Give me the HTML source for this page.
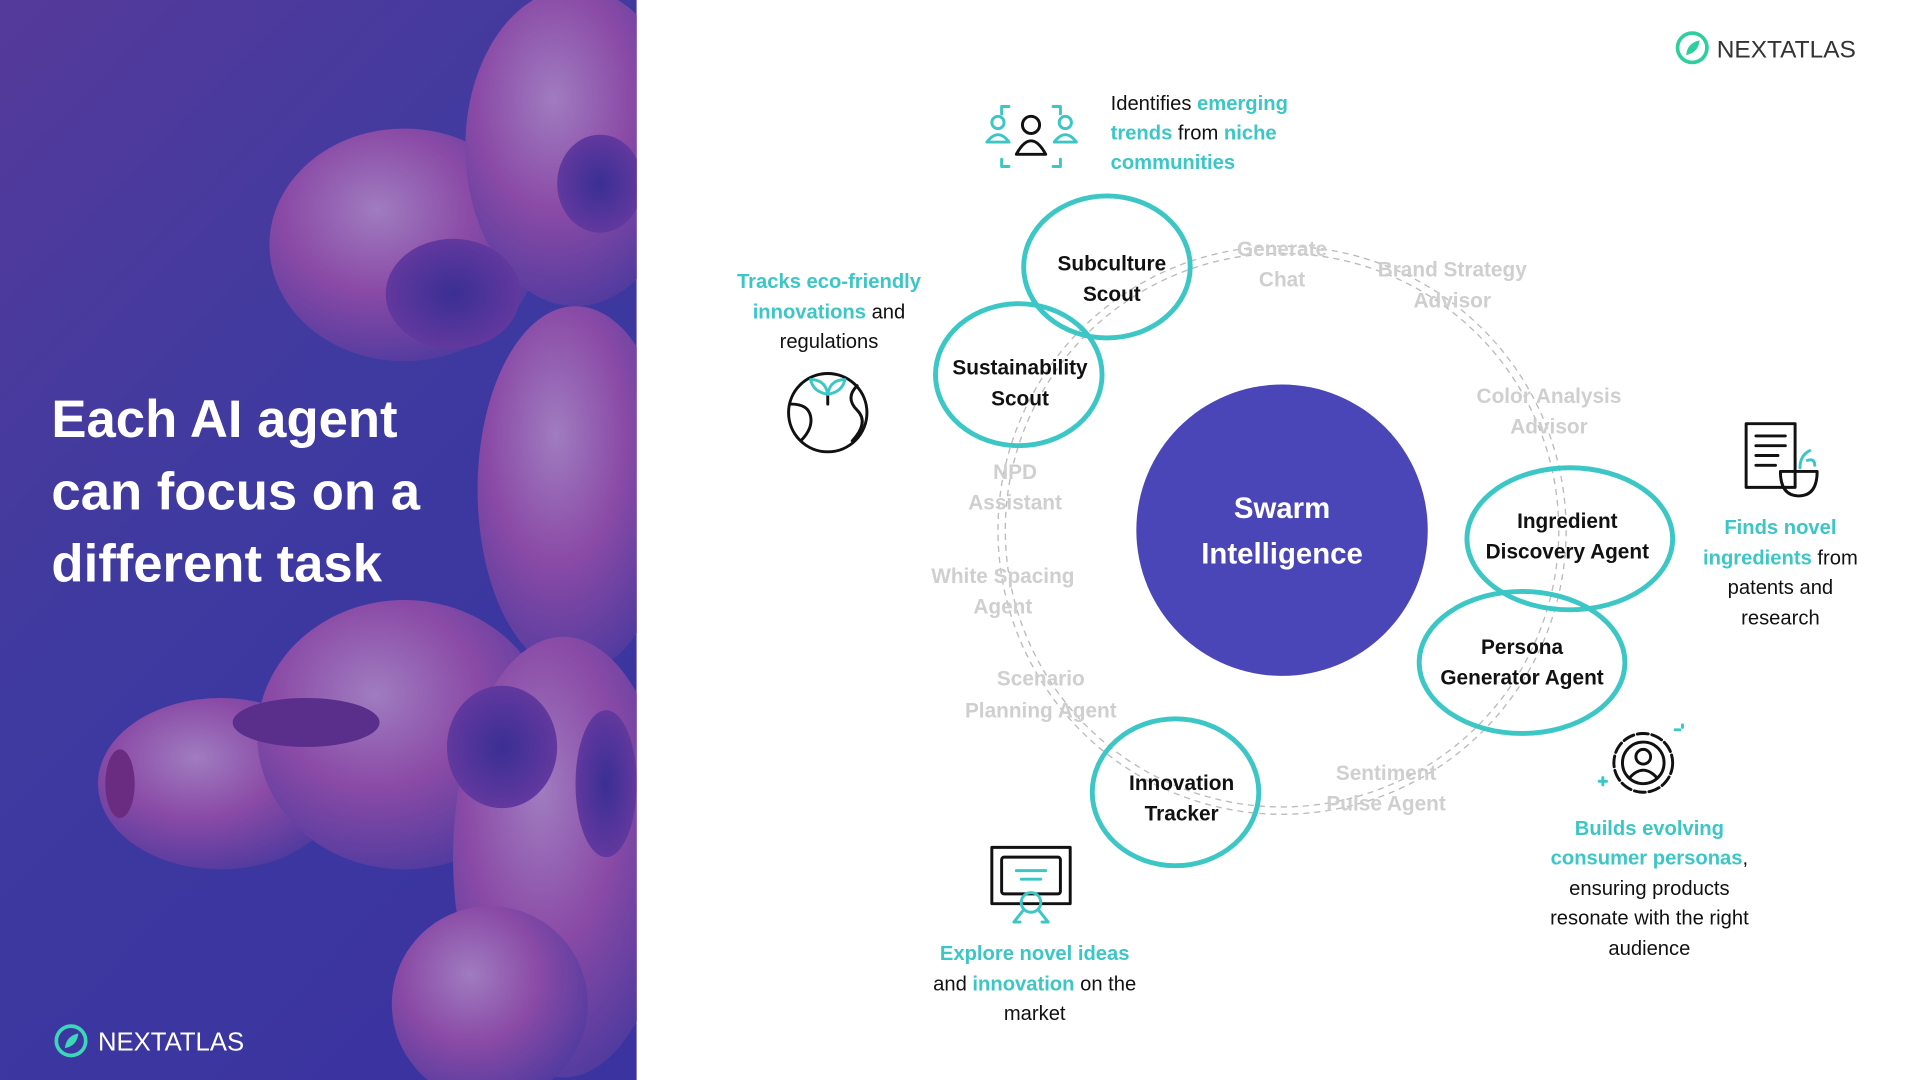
<!DOCTYPE html>
<html><head><meta charset="utf-8"><style>
html,body{margin:0;padding:0;width:1920px;height:1080px;overflow:hidden;background:#fff}
svg{display:block}
text{font-family:"Liberation Sans",sans-serif}
.g{fill:#cfcfcf;font-weight:bold;font-size:17px;text-anchor:middle}
.a{fill:#111;font-weight:bold;font-size:17px;text-anchor:middle}
.d{fill:#111;font-size:16.5px}
.t{fill:#3cc6c6;font-weight:bold}
.ring{fill:none;stroke:#3cc6c6;stroke-width:4}
.dash{fill:none;stroke:#bbb;stroke-width:1.1;stroke-dasharray:5 4}
.ic{fill:none;stroke:#111;stroke-width:2.4;stroke-linecap:round;stroke-linejoin:round}
.ict{fill:none;stroke:#3cc6c6;stroke-width:2.4;stroke-linecap:round;stroke-linejoin:round}
</style></head><body>
<svg width="1920" height="1080" viewBox="0 0 1568 882" preserveAspectRatio="none">
<defs>
<linearGradient id="bg" x1="0" y1="0" x2="0.6" y2="1">
<stop offset="0" stop-color="#553a9a"/><stop offset="0.5" stop-color="#3e3aa0"/><stop offset="1" stop-color="#3b34a0"/></linearGradient>
<radialGradient id="bl" cx="0.4" cy="0.35" r="0.7">
<stop offset="0" stop-color="#a07cc0"/><stop offset="0.5" stop-color="#8a4aa6"/><stop offset="1" stop-color="#4e3a9e"/></radialGradient>
<radialGradient id="ho" cx="0.5" cy="0.5" r="0.6">
<stop offset="0" stop-color="#3a2f94"/><stop offset="1" stop-color="#6a3aa0"/></radialGradient>
<clipPath id="lp"><rect x="0" y="0" width="520" height="882"/></clipPath>
</defs>
<g clip-path="url(#lp)">
<rect x="0" y="0" width="520" height="882" fill="url(#bg)"/>
<ellipse cx="330" cy="200" rx="110" ry="95" fill="url(#bl)"/>
<ellipse cx="470" cy="120" rx="90" ry="130" fill="url(#bl)"/>
<ellipse cx="470" cy="400" rx="80" ry="150" fill="url(#bl)"/>
<ellipse cx="180" cy="640" rx="100" ry="70" fill="url(#bl)"/>
<ellipse cx="330" cy="600" rx="120" ry="110" fill="url(#bl)"/>
<ellipse cx="460" cy="700" rx="90" ry="180" fill="url(#bl)"/>
<ellipse cx="400" cy="820" rx="80" ry="80" fill="url(#bl)"/>
<ellipse cx="370" cy="240" rx="55" ry="45" fill="url(#ho)"/>
<ellipse cx="490" cy="150" rx="35" ry="40" fill="url(#ho)"/>
<ellipse cx="410" cy="610" rx="45" ry="50" fill="url(#ho)"/>
<ellipse cx="495" cy="640" rx="25" ry="60" fill="url(#ho)"/>
<ellipse cx="250" cy="590" rx="60" ry="20" fill="#5a2f8c"/>
<ellipse cx="98" cy="640" rx="12" ry="28" fill="#6a2c80"/>
<text x="42" y="357" fill="#fff" font-size="43" font-weight="bold">Each AI agent</text>
<text x="42" y="416" fill="#fff" font-size="43" font-weight="bold">can focus on a</text>
<text x="42" y="475" fill="#fff" font-size="43" font-weight="bold">different task</text>
<circle cx="58" cy="850" r="12" fill="none" stroke="#3cd6b8" stroke-width="3"/>
<path d="M53 856 Q54 846 64 844 Q63 854 53 856Z" fill="#3cd6b8"/>
<text x="80" y="858" fill="#fff" font-size="21">NEXTATLAS</text>
</g>
<!-- top right logo -->
<circle cx="1382" cy="39" r="12" fill="none" stroke="#2ecf9f" stroke-width="3"/>
<path d="M1377 45 Q1378 35 1388 33 Q1387 43 1377 45Z" fill="#2ecf9f"/>
<text x="1402" y="47" fill="#333" font-size="20">NEXTATLAS</text>
<!-- dashed ring -->
<circle cx="1047" cy="433" r="232" class="dash" stroke="#ccc"/>
<circle cx="1047" cy="433" r="226" class="dash" stroke="#ddd"/>
<!-- center -->
<circle cx="1047" cy="433" r="119" fill="#4b46b8"/>
<text x="1047" y="423" fill="#fff" font-size="24" font-weight="bold" text-anchor="middle">Swarm</text>
<text x="1047" y="460" fill="#fff" font-size="24" font-weight="bold" text-anchor="middle">Intelligence</text>
<!-- grey labels -->
<g class="g">
<text x="1047" y="209">Generate</text><text x="1047" y="234">Chat</text>
<text x="1186" y="226">Brand Strategy</text><text x="1186" y="251">Advisor</text>
<text x="1265" y="329">Color Analysis</text><text x="1265" y="354">Advisor</text>
<text x="829" y="391">NPD</text><text x="829" y="416">Assistant</text>
<text x="819" y="476">White Spacing</text><text x="819" y="501">Agent</text>
<text x="850" y="560">Scenario</text><text x="850" y="586">Planning Agent</text>
<text x="1132" y="637">Sentiment</text><text x="1132" y="662">Pulse Agent</text>
</g>
<!-- teal rings -->
<ellipse cx="904" cy="218" rx="68" ry="58" class="ring" fill="#fff"/>
<ellipse cx="832" cy="306" rx="68" ry="58" class="ring"/>
<ellipse cx="1282" cy="440" rx="84" ry="58" class="ring"/>
<ellipse cx="1243" cy="541" rx="84" ry="58" class="ring"/>
<ellipse cx="960" cy="647" rx="68" ry="60" class="ring" fill="#fff"/>
<g class="a">
<text x="908" y="221">Subculture</text><text x="908" y="246">Scout</text>
<text x="833" y="306">Sustainability</text><text x="833" y="331">Scout</text>
<text x="1280" y="431">Ingredient</text><text x="1280" y="456">Discovery Agent</text>
<text x="1243" y="534">Persona</text><text x="1243" y="559">Generator Agent</text>
<text x="965" y="645">Innovation</text><text x="965" y="670">Tracker</text>
</g>
<!-- descriptions -->
<text x="907" y="90" class="d">Identifies <tspan class="t">emerging</tspan></text>
<text x="907" y="114" class="d"><tspan class="t">trends</tspan> from <tspan class="t">niche</tspan></text>
<text x="907" y="138" class="d t">communities</text>
<g class="d" text-anchor="middle">
<text x="677" y="235"><tspan class="t">Tracks eco-friendly</tspan></text>
<text x="677" y="260"><tspan class="t">innovations</tspan> and</text>
<text x="677" y="284">regulations</text>
<text x="1454" y="436"><tspan class="t">Finds novel</tspan></text>
<text x="1454" y="461"><tspan class="t">ingredients</tspan> from</text>
<text x="1454" y="485">patents and</text>
<text x="1454" y="510">research</text>
<text x="1347" y="682"><tspan class="t">Builds evolving</tspan></text>
<text x="1347" y="706"><tspan class="t">consumer personas</tspan>,</text>
<text x="1347" y="731">ensuring products</text>
<text x="1347" y="755">resonate with the right</text>
<text x="1347" y="780">audience</text>
<text x="845" y="784"><tspan class="t">Explore novel ideas</tspan></text>
<text x="845" y="809">and <tspan class="t">innovation</tspan> on the</text>
<text x="845" y="833">market</text>
</g>
<!-- icons -->
<g>
<path class="ict" d="M824 87h-6v6M860 87h6v6M824 136h-6v-6M860 136h6v-6"/>
<circle class="ict" cx="815" cy="100" r="5"/><path class="ict" d="M806 116q9-12 18 0z"/>
<circle class="ict" cx="870" cy="100" r="5"/><path class="ict" d="M861 116q9-12 18 0z"/>
<circle class="ic" cx="842" cy="102" r="7"/><path class="ic" d="M830 126q12-22 24 0z"/>
</g>
<g>
<circle class="ic" cx="676" cy="337" r="32"/>
<path class="ic" d="M646 330q14 0 16 10t-8 20M700 315q-10 10 0 20t-4 25M676 330v-10"/>
<path class="ict" d="M676 322q-12-2-14-12q12 0 14 12zM676 322q12-2 14-12q-12 0-14 12z"/>
</g>
<g>
<rect class="ic" x="1426" y="346" width="40" height="52"/>
<path class="ic" d="M1434 356h24M1434 364h24M1434 372h18M1434 380h16"/>
<path class="ic" d="M1454 385h30q0 20-15 20q-15 0-15-20z"/>
<path class="ict" d="M1470 382q0-10 8-14M1476 376q6-2 6 4"/>
</g>
<g>
<circle class="ic" cx="1342" cy="623" r="24" stroke-dasharray="9 3"/>
<circle class="ic" cx="1342" cy="623" r="17"/>
<circle class="ic" cx="1342" cy="618" r="6"/>
<path class="ic" d="M1331 635q11-12 22 0"/>
<path class="ict" d="M1306 638h6M1309 635v6M1368 596h4M1374 592v2"/>
</g>
<g>
<rect class="ic" x="810" y="692" width="64" height="46"/>
<rect class="ic" x="818" y="700" width="48" height="30" rx="2"/>
<path class="ict" d="M830 711h24M834 718h16"/>
<circle class="ict" cx="842" cy="737" r="8"/>
<path class="ict" d="M836 743l-8 10l5 0M848 743l8 10l-5 0"/>
</g>
</svg>
</body></html>
